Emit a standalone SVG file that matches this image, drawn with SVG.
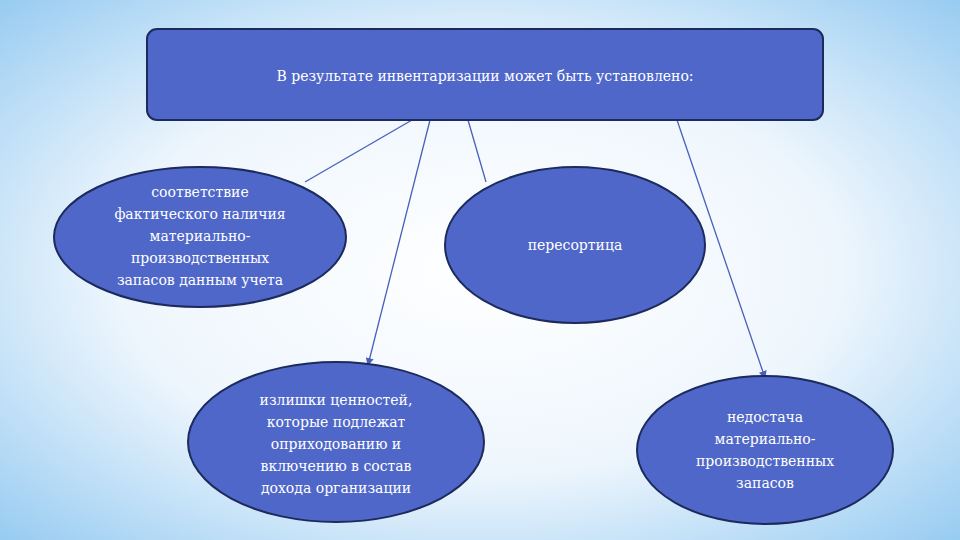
<svg xmlns="http://www.w3.org/2000/svg" width="960" height="540" viewBox="0 0 960 540">
<defs>
<radialGradient id="bg" cx="0.5" cy="0.5" r="0.75">
<stop offset="0" stop-color="#ffffff"/>
<stop offset="0.5" stop-color="#eef6fd"/>
<stop offset="1" stop-color="#8cc6f0"/>
</radialGradient>
<marker id="ar" markerWidth="8" markerHeight="8" refX="7" refY="4" orient="auto" markerUnits="userSpaceOnUse">
<path d="M0,0 L8,4 L0,8 z" fill="#4a5fb8"/>
</marker>
<style>
.n{fill:#4f67c9;stroke:#1c2a5c;stroke-width:2}
.t{font-family:"DejaVu Serif","Liberation Serif",serif;font-size:14px;fill:#ffffff;text-anchor:middle}
.c{stroke:#4a5fb8;stroke-width:1.3;fill:none}
</style>
</defs>
<rect width="960" height="540" fill="url(#bg)"/>
<g id="connectors">
<line class="c" x1="412" y1="120" x2="305" y2="182"/>
<line class="c" x1="430" y1="120" x2="368" y2="365" marker-end="url(#ar)"/>
<line class="c" x1="468" y1="120" x2="486" y2="182"/>
<line class="c" x1="677" y1="120" x2="765" y2="378" marker-end="url(#ar)"/>
</g>
<g id="top">
<rect class="n" x="147" y="29" width="676" height="91" rx="10"/>
<text class="t" x="485" y="81">В результате инвентаризации может быть установлено:</text>
</g>
<g id="match">
<ellipse class="n" cx="200" cy="237" rx="146" ry="70"/>
<text class="t"><tspan x="200" y="197">соответствие</tspan><tspan x="200" y="219">фактического наличия</tspan><tspan x="200" y="241">материально-</tspan><tspan x="200" y="263">производственных</tspan><tspan x="200" y="285">запасов данным учета</tspan></text>
</g>
<g id="regrading">
<ellipse class="n" cx="575" cy="245" rx="130" ry="78"/>
<text class="t" x="575" y="250">пересортица</text>
</g>
<g id="surplus">
<ellipse class="n" cx="336" cy="442" rx="148" ry="80"/>
<text class="t"><tspan x="336" y="405">излишки ценностей,</tspan><tspan x="336" y="427">которые подлежат</tspan><tspan x="336" y="449">оприходованию и</tspan><tspan x="336" y="471">включению в состав</tspan><tspan x="336" y="493">дохода организации</tspan></text>
</g>
<g id="shortage">
<ellipse class="n" cx="765" cy="450" rx="128" ry="74"/>
<text class="t"><tspan x="765" y="422">недостача</tspan><tspan x="765" y="444">материально-</tspan><tspan x="765" y="466">производственных</tspan><tspan x="765" y="488">запасов</tspan></text>
</g>
</svg>
